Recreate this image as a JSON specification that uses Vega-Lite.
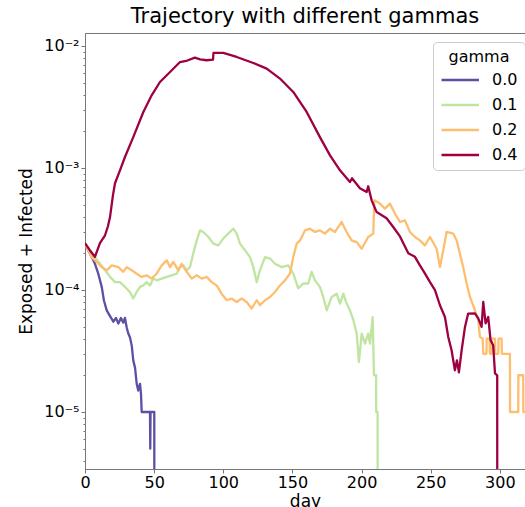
{
  "$schema": "https://vega.github.io/schema/vega-lite/v6.json",
  "autosize": "none",
  "width": 440,
  "height": 436,
  "padding": {"left": 85, "top": 33, "right": 0, "bottom": 38},
  "background": "white",
  "title": {"text": "Trajectory with different gammas", "fontSize": 21, "font": "DejaVu Sans", "fontWeight": "normal", "anchor": "middle", "offset": 6, "color": "black"},
  "config": {
    "font": "DejaVu Sans",
    "view": {"stroke": "#777777", "strokeWidth": 1},
    "axis": {"domainColor": "#777777", "tickColor": "#777777", "labelColor": "black", "titleColor": "black", "grid": false, "labelFont": "DejaVu Sans", "titleFont": "DejaVu Sans", "titleFontWeight": "normal"}
  },
  "data": {"values": [
      {"gamma": "0.0", "day": 0, "value": 2.42e-4},
      {"gamma": "0.0", "day": 2.4, "value": 2.1e-4},
      {"gamma": "0.0", "day": 4.8, "value": 1.87e-4},
      {"gamma": "0.0", "day": 7.2, "value": 1.64e-4},
      {"gamma": "0.0", "day": 9.6, "value": 1.36e-4},
      {"gamma": "0.0", "day": 12.1, "value": 1.06e-4},
      {"gamma": "0.0", "day": 13.7, "value": 8.2e-5},
      {"gamma": "0.0", "day": 15.7, "value": 6.8e-5},
      {"gamma": "0.0", "day": 18.1, "value": 6.1e-5},
      {"gamma": "0.0", "day": 20.5, "value": 5.5e-5},
      {"gamma": "0.0", "day": 22.4, "value": 5.9e-5},
      {"gamma": "0.0", "day": 24.1, "value": 5.3e-5},
      {"gamma": "0.0", "day": 26, "value": 5.9e-5},
      {"gamma": "0.0", "day": 27.7, "value": 5.4e-5},
      {"gamma": "0.0", "day": 28.9, "value": 5.9e-5},
      {"gamma": "0.0", "day": 30.2, "value": 4.9e-5},
      {"gamma": "0.0", "day": 31.3, "value": 4.4e-5},
      {"gamma": "0.0", "day": 32.5, "value": 4.1e-5},
      {"gamma": "0.0", "day": 33.8, "value": 3.5e-5},
      {"gamma": "0.0", "day": 34.9, "value": 2.65e-5},
      {"gamma": "0.0", "day": 36.2, "value": 2.3e-5},
      {"gamma": "0.0", "day": 37.4, "value": 1.7e-5},
      {"gamma": "0.0", "day": 38.5, "value": 1.5e-5},
      {"gamma": "0.0", "day": 39.8, "value": 1.7e-5},
      {"gamma": "0.0", "day": 40.5, "value": 1.4e-5},
      {"gamma": "0.0", "day": 41, "value": 1e-5},
      {"gamma": "0.0", "day": 47, "value": 1e-5},
      {"gamma": "0.0", "day": 47.2, "value": 5e-6},
      {"gamma": "0.0", "day": 47.4, "value": 1e-5},
      {"gamma": "0.0", "day": 50.1, "value": 1e-5},
      {"gamma": "0.0", "day": 50.2, "value": 1e-7},

      {"gamma": "0.1", "day": 0, "value": 2.4e-4},
      {"gamma": "0.1", "day": 3.6, "value": 2.12e-4},
      {"gamma": "0.1", "day": 7.2, "value": 1.86e-4},
      {"gamma": "0.1", "day": 10.8, "value": 1.64e-4},
      {"gamma": "0.1", "day": 14.5, "value": 1.45e-4},
      {"gamma": "0.1", "day": 18.1, "value": 1.28e-4},
      {"gamma": "0.1", "day": 21.7, "value": 1.16e-4},
      {"gamma": "0.1", "day": 25.3, "value": 1.16e-4},
      {"gamma": "0.1", "day": 28.9, "value": 1.06e-4},
      {"gamma": "0.1", "day": 32.5, "value": 9.63e-5},
      {"gamma": "0.1", "day": 34.9, "value": 8.51e-5},
      {"gamma": "0.1", "day": 37.4, "value": 9.63e-5},
      {"gamma": "0.1", "day": 39.8, "value": 1.06e-4},
      {"gamma": "0.1", "day": 42.2, "value": 1.09e-4},
      {"gamma": "0.1", "day": 44.6, "value": 1.16e-4},
      {"gamma": "0.1", "day": 47, "value": 1.09e-4},
      {"gamma": "0.1", "day": 49.4, "value": 1.24e-4},
      {"gamma": "0.1", "day": 51.8, "value": 1.2e-4},
      {"gamma": "0.1", "day": 55.5, "value": 1.24e-4},
      {"gamma": "0.1", "day": 59.1, "value": 1.28e-4},
      {"gamma": "0.1", "day": 62.7, "value": 1.32e-4},
      {"gamma": "0.1", "day": 66.3, "value": 1.36e-4},
      {"gamma": "0.1", "day": 68.7, "value": 1.54e-4},
      {"gamma": "0.1", "day": 71.1, "value": 1.59e-4},
      {"gamma": "0.1", "day": 73.5, "value": 1.45e-4},
      {"gamma": "0.1", "day": 75.9, "value": 1.54e-4},
      {"gamma": "0.1", "day": 78.3, "value": 1.99e-4},
      {"gamma": "0.1", "day": 80.8, "value": 2.55e-4},
      {"gamma": "0.1", "day": 83.2, "value": 3.08e-4},
      {"gamma": "0.1", "day": 85.5, "value": 2.99e-4},
      {"gamma": "0.1", "day": 89.2, "value": 2.72e-4},
      {"gamma": "0.1", "day": 92.8, "value": 2.4e-4},
      {"gamma": "0.1", "day": 96.4, "value": 2.32e-4},
      {"gamma": "0.1", "day": 100, "value": 2.64e-4},
      {"gamma": "0.1", "day": 103.6, "value": 2.9e-4},
      {"gamma": "0.1", "day": 107.2, "value": 3.18e-4},
      {"gamma": "0.1", "day": 109.7, "value": 2.9e-4},
      {"gamma": "0.1", "day": 112.1, "value": 2.4e-4},
      {"gamma": "0.1", "day": 115.7, "value": 2.12e-4},
      {"gamma": "0.1", "day": 119.3, "value": 1.86e-4},
      {"gamma": "0.1", "day": 121.7, "value": 1.54e-4},
      {"gamma": "0.1", "day": 124.2, "value": 1.16e-4},
      {"gamma": "0.1", "day": 126.5, "value": 1.45e-4},
      {"gamma": "0.1", "day": 130.2, "value": 1.86e-4},
      {"gamma": "0.1", "day": 133.8, "value": 1.81e-4},
      {"gamma": "0.1", "day": 137.4, "value": 1.64e-4},
      {"gamma": "0.1", "day": 142.2, "value": 1.54e-4},
      {"gamma": "0.1", "day": 147, "value": 1.59e-4},
      {"gamma": "0.1", "day": 150.6, "value": 1.36e-4},
      {"gamma": "0.1", "day": 154.2, "value": 1.03e-4},
      {"gamma": "0.1", "day": 157.8, "value": 1.13e-4},
      {"gamma": "0.1", "day": 161.5, "value": 1.13e-4},
      {"gamma": "0.1", "day": 163.9, "value": 1.41e-4},
      {"gamma": "0.1", "day": 166.3, "value": 1.2e-4},
      {"gamma": "0.1", "day": 169.9, "value": 1.06e-4},
      {"gamma": "0.1", "day": 172.3, "value": 8.77e-5},
      {"gamma": "0.1", "day": 174.8, "value": 6.82e-5},
      {"gamma": "0.1", "day": 178.4, "value": 8.77e-5},
      {"gamma": "0.1", "day": 182, "value": 9.33e-5},
      {"gamma": "0.1", "day": 184.4, "value": 7.74e-5},
      {"gamma": "0.1", "day": 186.8, "value": 9.33e-5},
      {"gamma": "0.1", "day": 189.2, "value": 7.74e-5},
      {"gamma": "0.1", "day": 191.6, "value": 6.82e-5},
      {"gamma": "0.1", "day": 194.1, "value": 5.65e-5},
      {"gamma": "0.1", "day": 196.5, "value": 4.39e-5},
      {"gamma": "0.1", "day": 198.1, "value": 2.57e-5},
      {"gamma": "0.1", "day": 200.1, "value": 4.39e-5},
      {"gamma": "0.1", "day": 202.5, "value": 3.64e-5},
      {"gamma": "0.1", "day": 204.8, "value": 4.39e-5},
      {"gamma": "0.1", "day": 206.1, "value": 3.64e-5},
      {"gamma": "0.1", "day": 208, "value": 6.0e-5},
      {"gamma": "0.1", "day": 209, "value": 2.0e-5},
      {"gamma": "0.1", "day": 210.5, "value": 2.0e-5},
      {"gamma": "0.1", "day": 210.6, "value": 1.0e-5},
      {"gamma": "0.1", "day": 211.6, "value": 1.0e-5},
      {"gamma": "0.1", "day": 211.7, "value": 1e-7},

      {"gamma": "0.2", "day": 0, "value": 2.4e-4},
      {"gamma": "0.2", "day": 4.8, "value": 1.86e-4},
      {"gamma": "0.2", "day": 8.5, "value": 1.7e-4},
      {"gamma": "0.2", "day": 12.1, "value": 1.54e-4},
      {"gamma": "0.2", "day": 15.7, "value": 1.45e-4},
      {"gamma": "0.2", "day": 19.3, "value": 1.59e-4},
      {"gamma": "0.2", "day": 24.1, "value": 1.54e-4},
      {"gamma": "0.2", "day": 27.7, "value": 1.41e-4},
      {"gamma": "0.2", "day": 30.2, "value": 1.54e-4},
      {"gamma": "0.2", "day": 33.8, "value": 1.45e-4},
      {"gamma": "0.2", "day": 37.4, "value": 1.36e-4},
      {"gamma": "0.2", "day": 41, "value": 1.28e-4},
      {"gamma": "0.2", "day": 44.6, "value": 1.32e-4},
      {"gamma": "0.2", "day": 48.2, "value": 1.24e-4},
      {"gamma": "0.2", "day": 51.8, "value": 1.36e-4},
      {"gamma": "0.2", "day": 55.5, "value": 1.59e-4},
      {"gamma": "0.2", "day": 59.1, "value": 1.75e-4},
      {"gamma": "0.2", "day": 61.5, "value": 1.54e-4},
      {"gamma": "0.2", "day": 63.8, "value": 1.7e-4},
      {"gamma": "0.2", "day": 67.5, "value": 1.45e-4},
      {"gamma": "0.2", "day": 69.9, "value": 1.64e-4},
      {"gamma": "0.2", "day": 73.5, "value": 1.41e-4},
      {"gamma": "0.2", "day": 77.2, "value": 1.24e-4},
      {"gamma": "0.2", "day": 80.8, "value": 1.32e-4},
      {"gamma": "0.2", "day": 84.4, "value": 1.24e-4},
      {"gamma": "0.2", "day": 88, "value": 1.28e-4},
      {"gamma": "0.2", "day": 91.6, "value": 1.16e-4},
      {"gamma": "0.2", "day": 95.2, "value": 1.09e-4},
      {"gamma": "0.2", "day": 98.8, "value": 9.33e-5},
      {"gamma": "0.2", "day": 102.5, "value": 8.24e-5},
      {"gamma": "0.2", "day": 106.1, "value": 8.51e-5},
      {"gamma": "0.2", "day": 109.7, "value": 7.98e-5},
      {"gamma": "0.2", "day": 113.3, "value": 8.51e-5},
      {"gamma": "0.2", "day": 116.9, "value": 7.98e-5},
      {"gamma": "0.2", "day": 120.5, "value": 7.05e-5},
      {"gamma": "0.2", "day": 124.2, "value": 8.24e-5},
      {"gamma": "0.2", "day": 126.5, "value": 7.5e-5},
      {"gamma": "0.2", "day": 130.2, "value": 8.24e-5},
      {"gamma": "0.2", "day": 133.8, "value": 8.77e-5},
      {"gamma": "0.2", "day": 137.4, "value": 9.63e-5},
      {"gamma": "0.2", "day": 141, "value": 1.09e-4},
      {"gamma": "0.2", "day": 144.6, "value": 1.2e-4},
      {"gamma": "0.2", "day": 148.2, "value": 1.36e-4},
      {"gamma": "0.2", "day": 150.6, "value": 1.86e-4},
      {"gamma": "0.2", "day": 153.1, "value": 2.4e-4},
      {"gamma": "0.2", "day": 155.5, "value": 2.55e-4},
      {"gamma": "0.2", "day": 159.1, "value": 3.08e-4},
      {"gamma": "0.2", "day": 162.7, "value": 3.18e-4},
      {"gamma": "0.2", "day": 166.3, "value": 2.99e-4},
      {"gamma": "0.2", "day": 169.9, "value": 3.08e-4},
      {"gamma": "0.2", "day": 173.5, "value": 2.9e-4},
      {"gamma": "0.2", "day": 177.2, "value": 3.18e-4},
      {"gamma": "0.2", "day": 180.8, "value": 2.99e-4},
      {"gamma": "0.2", "day": 185.6, "value": 3.61e-4},
      {"gamma": "0.2", "day": 189.2, "value": 2.99e-4},
      {"gamma": "0.2", "day": 192.8, "value": 2.55e-4},
      {"gamma": "0.2", "day": 196.5, "value": 2.47e-4},
      {"gamma": "0.2", "day": 200.1, "value": 2.18e-4},
      {"gamma": "0.2", "day": 204.8, "value": 2.72e-4},
      {"gamma": "0.2", "day": 208.5, "value": 2.9e-4},
      {"gamma": "0.2", "day": 209.2, "value": 5.43e-4},
      {"gamma": "0.2", "day": 213.3, "value": 5.11e-4},
      {"gamma": "0.2", "day": 216.9, "value": 4.65e-4},
      {"gamma": "0.2", "day": 220.5, "value": 5.11e-4},
      {"gamma": "0.2", "day": 224.1, "value": 4.23e-4},
      {"gamma": "0.2", "day": 227.8, "value": 3.61e-4},
      {"gamma": "0.2", "day": 231.4, "value": 3.72e-4},
      {"gamma": "0.2", "day": 235, "value": 2.99e-4},
      {"gamma": "0.2", "day": 238.6, "value": 2.72e-4},
      {"gamma": "0.2", "day": 242.2, "value": 2.55e-4},
      {"gamma": "0.2", "day": 245.8, "value": 2.32e-4},
      {"gamma": "0.2", "day": 249.5, "value": 2.72e-4},
      {"gamma": "0.2", "day": 254.3, "value": 2.18e-4},
      {"gamma": "0.2", "day": 256.7, "value": 1.54e-4},
      {"gamma": "0.2", "day": 259.1, "value": 2.12e-4},
      {"gamma": "0.2", "day": 261.5, "value": 2.99e-4},
      {"gamma": "0.2", "day": 266.3, "value": 2.9e-4},
      {"gamma": "0.2", "day": 268.8, "value": 2.55e-4},
      {"gamma": "0.2", "day": 271.1, "value": 1.99e-4},
      {"gamma": "0.2", "day": 273.5, "value": 1.54e-4},
      {"gamma": "0.2", "day": 276, "value": 1.13e-4},
      {"gamma": "0.2", "day": 278.4, "value": 8.77e-5},
      {"gamma": "0.2", "day": 282, "value": 6.82e-5},
      {"gamma": "0.2", "day": 284.4, "value": 5.65e-5},
      {"gamma": "0.2", "day": 285.6, "value": 4.12e-5},
      {"gamma": "0.2", "day": 287.6, "value": 4.0e-5},
      {"gamma": "0.2", "day": 288, "value": 3.0e-5},
      {"gamma": "0.2", "day": 290.3, "value": 3.0e-5},
      {"gamma": "0.2", "day": 290.5, "value": 4.0e-5},
      {"gamma": "0.2", "day": 292.6, "value": 4.0e-5},
      {"gamma": "0.2", "day": 292.8, "value": 3.0e-5},
      {"gamma": "0.2", "day": 293.9, "value": 3.0e-5},
      {"gamma": "0.2", "day": 294.1, "value": 4.0e-5},
      {"gamma": "0.2", "day": 296.5, "value": 4.0e-5},
      {"gamma": "0.2", "day": 296.7, "value": 3.0e-5},
      {"gamma": "0.2", "day": 298.9, "value": 3.0e-5},
      {"gamma": "0.2", "day": 299.1, "value": 4.0e-5},
      {"gamma": "0.2", "day": 301.3, "value": 4.0e-5},
      {"gamma": "0.2", "day": 301.5, "value": 3.0e-5},
      {"gamma": "0.2", "day": 307.3, "value": 3.0e-5},
      {"gamma": "0.2", "day": 307.4, "value": 1.0e-5},
      {"gamma": "0.2", "day": 313.3, "value": 1.0e-5},
      {"gamma": "0.2", "day": 313.4, "value": 2.0e-5},
      {"gamma": "0.2", "day": 316.9, "value": 2.0e-5},
      {"gamma": "0.2", "day": 317, "value": 1.0e-5},
      {"gamma": "0.2", "day": 320, "value": 1.0e-5},

      {"gamma": "0.4", "day": 0, "value": 2.42e-4},
      {"gamma": "0.4", "day": 3.6, "value": 2.11e-4},
      {"gamma": "0.4", "day": 7.2, "value": 1.87e-4},
      {"gamma": "0.4", "day": 10.8, "value": 2.42e-4},
      {"gamma": "0.4", "day": 14.5, "value": 2.81e-4},
      {"gamma": "0.4", "day": 16.6, "value": 3.33e-4},
      {"gamma": "0.4", "day": 18.1, "value": 3.96e-4},
      {"gamma": "0.4", "day": 20.2, "value": 5.97e-4},
      {"gamma": "0.4", "day": 21.7, "value": 7.5e-4},
      {"gamma": "0.4", "day": 25.3, "value": 9.57e-4},
      {"gamma": "0.4", "day": 28.9, "value": 1.23e-3},
      {"gamma": "0.4", "day": 34.9, "value": 1.79e-3},
      {"gamma": "0.4", "day": 42.2, "value": 2.88e-3},
      {"gamma": "0.4", "day": 48.2, "value": 3.94e-3},
      {"gamma": "0.4", "day": 54.2, "value": 5.07e-3},
      {"gamma": "0.4", "day": 61.5, "value": 6.12e-3},
      {"gamma": "0.4", "day": 68.7, "value": 7.39e-3},
      {"gamma": "0.4", "day": 74, "value": 7.6e-3},
      {"gamma": "0.4", "day": 79.5, "value": 8.03e-3},
      {"gamma": "0.4", "day": 83.2, "value": 7.78e-3},
      {"gamma": "0.4", "day": 88, "value": 7.64e-3},
      {"gamma": "0.4", "day": 92.6, "value": 7.74e-3},
      {"gamma": "0.4", "day": 92.9, "value": 8.77e-3},
      {"gamma": "0.4", "day": 100, "value": 8.77e-3},
      {"gamma": "0.4", "day": 109.7, "value": 8.13e-3},
      {"gamma": "0.4", "day": 121.7, "value": 7.26e-3},
      {"gamma": "0.4", "day": 131.4, "value": 6.53e-3},
      {"gamma": "0.4", "day": 141, "value": 5.41e-3},
      {"gamma": "0.4", "day": 150.6, "value": 4.2e-3},
      {"gamma": "0.4", "day": 160.3, "value": 2.88e-3},
      {"gamma": "0.4", "day": 169.9, "value": 1.79e-3},
      {"gamma": "0.4", "day": 177.2, "value": 1.27e-3},
      {"gamma": "0.4", "day": 184.4, "value": 9.57e-4},
      {"gamma": "0.4", "day": 191.6, "value": 7.67e-4},
      {"gamma": "0.4", "day": 193.1, "value": 8.24e-4},
      {"gamma": "0.4", "day": 198.8, "value": 6.82e-4},
      {"gamma": "0.4", "day": 203.7, "value": 6.36e-4},
      {"gamma": "0.4", "day": 204.8, "value": 7.08e-4},
      {"gamma": "0.4", "day": 207.3, "value": 5.43e-4},
      {"gamma": "0.4", "day": 210.9, "value": 4.35e-4},
      {"gamma": "0.4", "day": 218.1, "value": 3.87e-4},
      {"gamma": "0.4", "day": 222.9, "value": 3.28e-4},
      {"gamma": "0.4", "day": 227.8, "value": 2.75e-4},
      {"gamma": "0.4", "day": 233.8, "value": 2.0e-4},
      {"gamma": "0.4", "day": 238.6, "value": 1.87e-4},
      {"gamma": "0.4", "day": 242.2, "value": 1.59e-4},
      {"gamma": "0.4", "day": 245.8, "value": 1.37e-4},
      {"gamma": "0.4", "day": 249.5, "value": 1.16e-4},
      {"gamma": "0.4", "day": 253.1, "value": 9.96e-5},
      {"gamma": "0.4", "day": 256.7, "value": 7.5e-5},
      {"gamma": "0.4", "day": 260.3, "value": 6.01e-5},
      {"gamma": "0.4", "day": 262.7, "value": 4.12e-5},
      {"gamma": "0.4", "day": 265.1, "value": 3.21e-5},
      {"gamma": "0.4", "day": 267.5, "value": 2.2e-5},
      {"gamma": "0.4", "day": 269, "value": 2.65e-5},
      {"gamma": "0.4", "day": 270.4, "value": 2.11e-5},
      {"gamma": "0.4", "day": 272.4, "value": 3.21e-5},
      {"gamma": "0.4", "day": 274.8, "value": 4.98e-5},
      {"gamma": "0.4", "day": 277.1, "value": 6.41e-5},
      {"gamma": "0.4", "day": 282, "value": 6.44e-5},
      {"gamma": "0.4", "day": 284.4, "value": 5.86e-5},
      {"gamma": "0.4", "day": 286.8, "value": 4.98e-5},
      {"gamma": "0.4", "day": 288, "value": 7.98e-5},
      {"gamma": "0.4", "day": 289.7, "value": 5.33e-5},
      {"gamma": "0.4", "day": 291.6, "value": 6.01e-5},
      {"gamma": "0.4", "day": 293.3, "value": 3.87e-5},
      {"gamma": "0.4", "day": 295.2, "value": 3.52e-5},
      {"gamma": "0.4", "day": 296.5, "value": 2.07e-5},
      {"gamma": "0.4", "day": 298.1, "value": 2.0e-5},
      {"gamma": "0.4", "day": 298.2, "value": 1e-7}
  ]},
  "mark": {"type": "line", "strokeWidth": 2.3, "clip": true, "strokeJoin": "round"},
  "encoding": {
    "x": {
      "field": "day", "type": "quantitative",
      "scale": {"domain": [0, 318.2], "nice": false, "zero": false},
      "axis": {"values": [0, 50, 100, 150, 200, 250, 300], "title": "day", "labelFontSize": 16, "titleFontSize": 17, "tickSize": 4, "labelPadding": 1, "titlePadding": 3, "labelFlush": false}
    },
    "y": {
      "field": "value", "type": "quantitative",
      "scale": {"type": "log", "domain": [3.41e-6, 0.01278], "nice": false},
      "axis": {
        "values": [4e-6, 5e-6, 6e-6, 7e-6, 8e-6, 9e-6, 1e-5, 2e-5, 3e-5, 4e-5, 5e-5, 6e-5, 7e-5, 8e-5, 9e-5, 1e-4, 2e-4, 3e-4, 4e-4, 5e-4, 6e-4, 7e-4, 8e-4, 9e-4, 1e-3, 2e-3, 3e-3, 4e-3, 5e-3, 6e-3, 7e-3, 8e-3, 9e-3, 1e-2],
        "labelExpr": "abs(log(datum.value) / LN10 - round(log(datum.value) / LN10)) < 0.01 ? '10⁻' + ['', '¹', '²', '³', '⁴', '⁵', '⁶'][round(-log(datum.value) / LN10)] : ''",
        "tickSize": {"condition": {"test": "abs(log(datum.value) / LN10 - round(log(datum.value) / LN10)) < 0.01", "value": 4}, "value": 2},
        "labelOverlap": false,
        "title": "Exposed + Infected", "labelFontSize": 16, "titleFontSize": 17, "labelPadding": 2, "titlePadding": 8
      }
    },
    "color": {
      "field": "gamma", "type": "nominal",
      "scale": {"domain": ["0.0", "0.1", "0.2", "0.4"], "range": ["#5e4fa2", "#bfe5a0", "#fdbf6f", "#9e0142"]},
      "legend": {"title": "gamma", "orient": "none", "legendX": 348, "legendY": 9, "symbolType": "M-1,0H4", "symbolSize": 225, "symbolStrokeWidth": 2.3, "titleFontSize": 16, "titleFontWeight": "normal", "titleAnchor": "middle", "labelFontSize": 16, "rowPadding": 8, "padding": 7, "strokeColor": "#cccccc", "fillColor": "white", "cornerRadius": 4, "labelOffset": 34, "titlePadding": 6}
    }
  }
}
